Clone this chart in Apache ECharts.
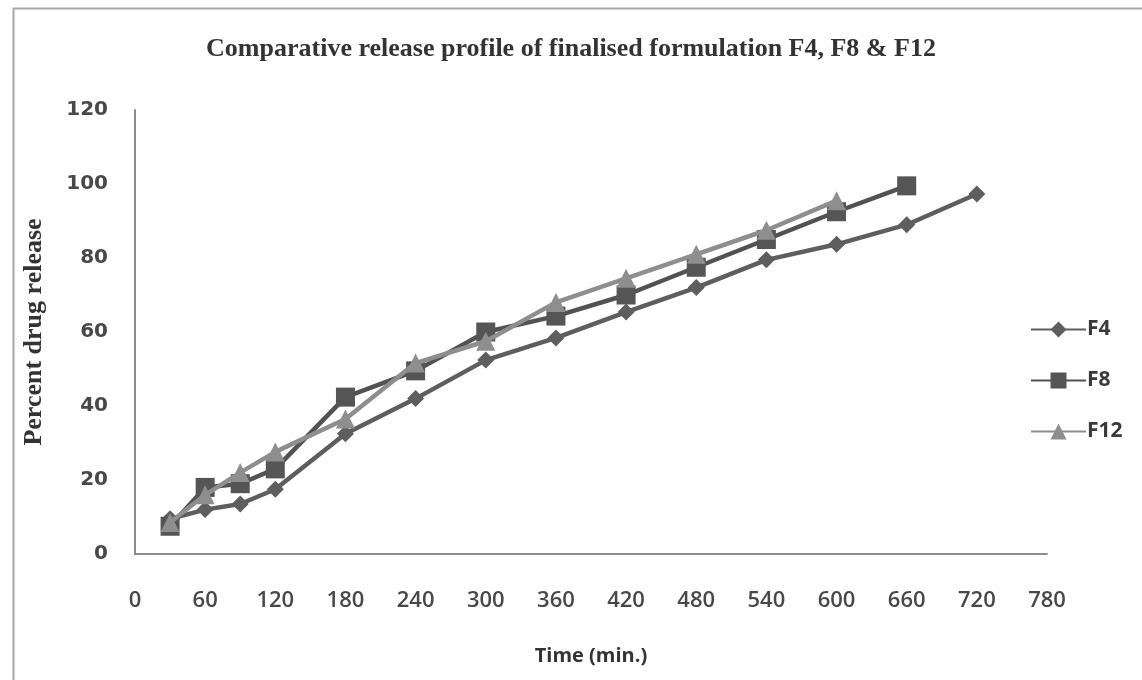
<!DOCTYPE html>
<html>
<head>
<meta charset="utf-8">
<script src="https://cdn.jsdelivr.net/npm/echarts@6/dist/echarts.min.js"></script>
<style>
html,body{margin:0;padding:0;background:#fff;}
#chart{width:1142px;height:680px;}
</style>
</head>
<body>
<div id="chart"></div>
<script>
const titleText = 'Comparative release profile of finalised formulation F4, F8 & F12';
const xAxisName = 'Time (min.)';
const yAxisName = 'Percent drug release';
const seriesNames = ['F4', 'F8', 'F12'];
const timesF4 = [30, 60, 90, 120, 180, 240, 300, 360, 420, 480, 540, 600, 660, 720];
const timesF8 = [30, 60, 90, 120, 180, 240, 300, 360, 420, 480, 540, 600, 660];
const timesF12 = [30, 60, 90, 120, 180, 240, 300, 360, 420, 480, 540, 600];
const valuesF4 = [9.5, 12, 13.5, 17.5, 32.5, 42, 52.4, 58.4, 65.4, 72, 79.5, 83.7, 89, 97.3];
const valuesF8 = [7.5, 18, 19, 23, 42.4, 49.5, 60, 64.3, 70, 77.5, 85, 92.5, 99.5];
const valuesF12 = [8.5, 16, 22, 27.6, 36.5, 51.6, 57.5, 68, 74.5, 81, 87.5, 95.5];

function pairs(xs, ys) { return xs.map((x, i) => [x, ys[i]]); }

const chart = echarts.init(document.getElementById('chart'), null, {renderer: 'canvas'});
const labelColor = '#484848';
chart.setOption({
  animation: false,
  backgroundColor: '#fff',
  graphic: [{
    type: 'rect', left: 11, top: 6, silent: true,
    shape: {width: 1200, height: 720},
    style: {fill: 'none', stroke: '#a8a8a8', lineWidth: 2}
  }],
  title: {
    text: titleText, left: 'center', top: 31,
    textStyle: {fontFamily: 'Liberation Serif', fontWeight: 'bold', fontSize: 26, color: '#333'}
  },
  grid: {left: 135, right: 95, top: 110, bottom: 126, containLabel: false},
  legend: {
    data: seriesNames, orient: 'vertical', left: 1025, top: 314,
    itemWidth: 55, itemHeight: 20, itemGap: 30,
    textStyle: {fontFamily: 'Open Sans', fontWeight: 'bold', fontSize: 21, color: '#3a3a3a', padding: [0,0,0,-4]}
  },
  xAxis: {
    type: 'value', min: 0, max: 780, interval: 60,
    name: xAxisName, nameLocation: 'middle', nameGap: 92,
    nameTextStyle: {fontFamily: 'Open Sans', fontWeight: 'bold', fontSize: 20, color: '#333'},
    axisLine: {show: true, lineStyle: {color: '#8c8c8c', width: 2}},
    axisTick: {show: false}, splitLine: {show: false},
    axisLabel: {margin: 36, fontFamily: 'Open Sans', fontWeight: 600, fontSize: 22, color: labelColor}
  },
  yAxis: {
    type: 'value', min: 0, max: 120, interval: 20,
    name: yAxisName, nameLocation: 'middle', nameGap: 88, nameRotate: 90,
    nameTextStyle: {fontFamily: 'Liberation Serif', fontWeight: 'bold', fontSize: 26, color: '#333'},
    axisLine: {show: true, lineStyle: {color: '#8c8c8c', width: 2}},
    axisTick: {show: false}, splitLine: {show: false},
    axisLabel: {margin: 27, fontFamily: 'DejaVu Sans', fontWeight: 'bold', fontSize: 20, color: labelColor}
  },
  series: [
    {name: 'F4', type: 'line', data: pairs(timesF4, valuesF4), symbol: 'diamond', symbolSize: 17,
     lineStyle: {color: '#5e5e5e', width: 4.5}, itemStyle: {color: '#5e5e5e'}, z: 2},
    {name: 'F8', type: 'line', data: pairs(timesF8, valuesF8), symbol: 'rect', symbolSize: 19,
     lineStyle: {color: '#525252', width: 4.5}, itemStyle: {color: '#555555'}, z: 3},
    {name: 'F12', type: 'line', data: pairs(timesF12, valuesF12), symbol: 'triangle', symbolSize: 19,
     lineStyle: {color: '#8e8e8e', width: 4.5}, itemStyle: {color: '#8e8e8e'}, z: 4}
  ]
});
</script>
</body>
</html>
